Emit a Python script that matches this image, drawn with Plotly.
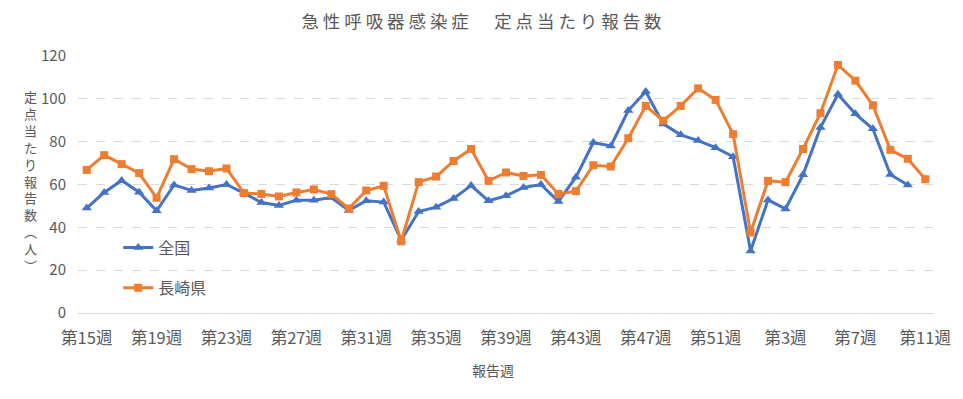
import plotly.graph_objects as go

weeks = [f"第{w}週" for w in list(range(15, 53)) + list(range(1, 12))]

zenkoku = [49.0, 56.3, 61.9, 56.4, 47.7, 59.8, 57.2, 58.4, 60.0, 56.0,
           51.6, 50.2, 52.7, 52.7, 53.9, 47.9, 52.4, 51.8, 34.0, 47.4,
           49.4, 53.5, 59.5, 52.4, 54.7, 58.6, 60.0, 52.1, 63.4, 79.6,
           78.0, 94.5, 103.4, 88.3, 83.2, 80.5, 77.2, 73.0, 29.0, 52.8,
           48.6, 64.5, 86.6, 102.1, 93.0, 86.0, 64.7, 59.8]

nagasaki = [66.8, 73.7, 69.5, 65.3, 53.8, 71.8, 67.2, 66.2, 67.5, 56.0,
            55.6, 54.4, 56.3, 57.7, 55.5, 48.8, 57.2, 59.4, 33.5, 61.1,
            63.7, 71.0, 76.6, 61.7, 65.6, 64.0, 64.5, 55.6, 56.9, 69.0,
            68.4, 81.6, 96.7, 89.8, 96.7, 104.9, 99.5, 83.5, 37.6, 61.7,
            61.1, 76.6, 93.3, 115.8, 108.5, 97.0, 76.2, 72.0, 62.5]

tick_labels = weeks[::4]
y_ticks = [0, 20, 40, 60, 80, 100, 120]

title_text = "急性呼吸器感染症　定点当たり報告数"
y_title = "定点当たり報告数︵人︶"
x_title = "報告週"

FONT = "Noto Sans CJK JP, Noto Sans, sans-serif"
GREY = "#595959"

fig = go.Figure()
fig.add_trace(go.Scatter(
    x=weeks[:len(zenkoku)], y=zenkoku, name="全国", mode="lines+markers",
    line=dict(color="#4472C4", width=3),
    marker=dict(symbol="triangle-up", size=9, color="#4472C4"),
    legend="legend", showlegend=True,
))
fig.add_trace(go.Scatter(
    x=weeks[:len(nagasaki)], y=nagasaki, name="長崎県", mode="lines+markers",
    line=dict(color="#ED7D31", width=3),
    marker=dict(symbol="square", size=8, color="#ED7D31"),
    legend="legend2", showlegend=True,
))

legend_common = dict(font=dict(family=FONT, size=16, color=GREY),
                     bgcolor="rgba(0,0,0,0)", xanchor="left", yanchor="middle",
                     visible=True)

fig.update_layout(
    width=963, height=399,
    margin=dict(l=78, r=27, t=56, b=86),
    paper_bgcolor="white", plot_bgcolor="white",
    font=dict(family=FONT, color=GREY),
    showlegend=True,
    title=dict(text=" ".join(list(title_text)), x=0.5, xanchor="center",
               y=1 - 22 / 399, yanchor="middle",
               font=dict(family=FONT, size=17.5, color=GREY)),
    legend=dict(x=0.047, y=0.254, **legend_common),
    legend2=dict(x=0.047, y=0.098, **legend_common),
    xaxis=dict(
        type="category", categoryorder="array", categoryarray=weeks,
        range=[-0.5, len(weeks) - 0.5],
        tickmode="array", tickvals=tick_labels, ticktext=tick_labels,
        tickfont=dict(family=FONT, size=16.5, color=GREY),
        ticks="outside", ticklen=10, tickcolor="rgba(0,0,0,0)",
        showgrid=False, showline=False, zeroline=False,
    ),
    yaxis=dict(
        range=[0, 120], tickmode="array", tickvals=y_ticks,
        tickfont=dict(family=FONT, size=15, color=GREY),
        ticks="outside", ticklen=8, tickcolor="rgba(0,0,0,0)",
        showgrid=True, gridcolor="#D9D9D9", griddash="dash", gridwidth=1,
        zeroline=True, zerolinecolor="#D9D9D9", zerolinewidth=1,
        showline=False,
    ),
    annotations=[
        dict(text="<br>".join(list(y_title)), xref="paper", yref="paper",
             x=(30 - 78) / 858, y=(313.3 - 181) / 257.3, xanchor="center", yanchor="middle",
             showarrow=False, font=dict(family=FONT, size=13, color=GREY)),
        dict(text=x_title, xref="paper", yref="paper",
             x=(494 - 78) / 858, y=(313.3 - 370) / 257.3, xanchor="center", yanchor="middle",
             showarrow=False, font=dict(family=FONT, size=14, color=GREY)),
    ],
)

fig.write_html("out.html")
